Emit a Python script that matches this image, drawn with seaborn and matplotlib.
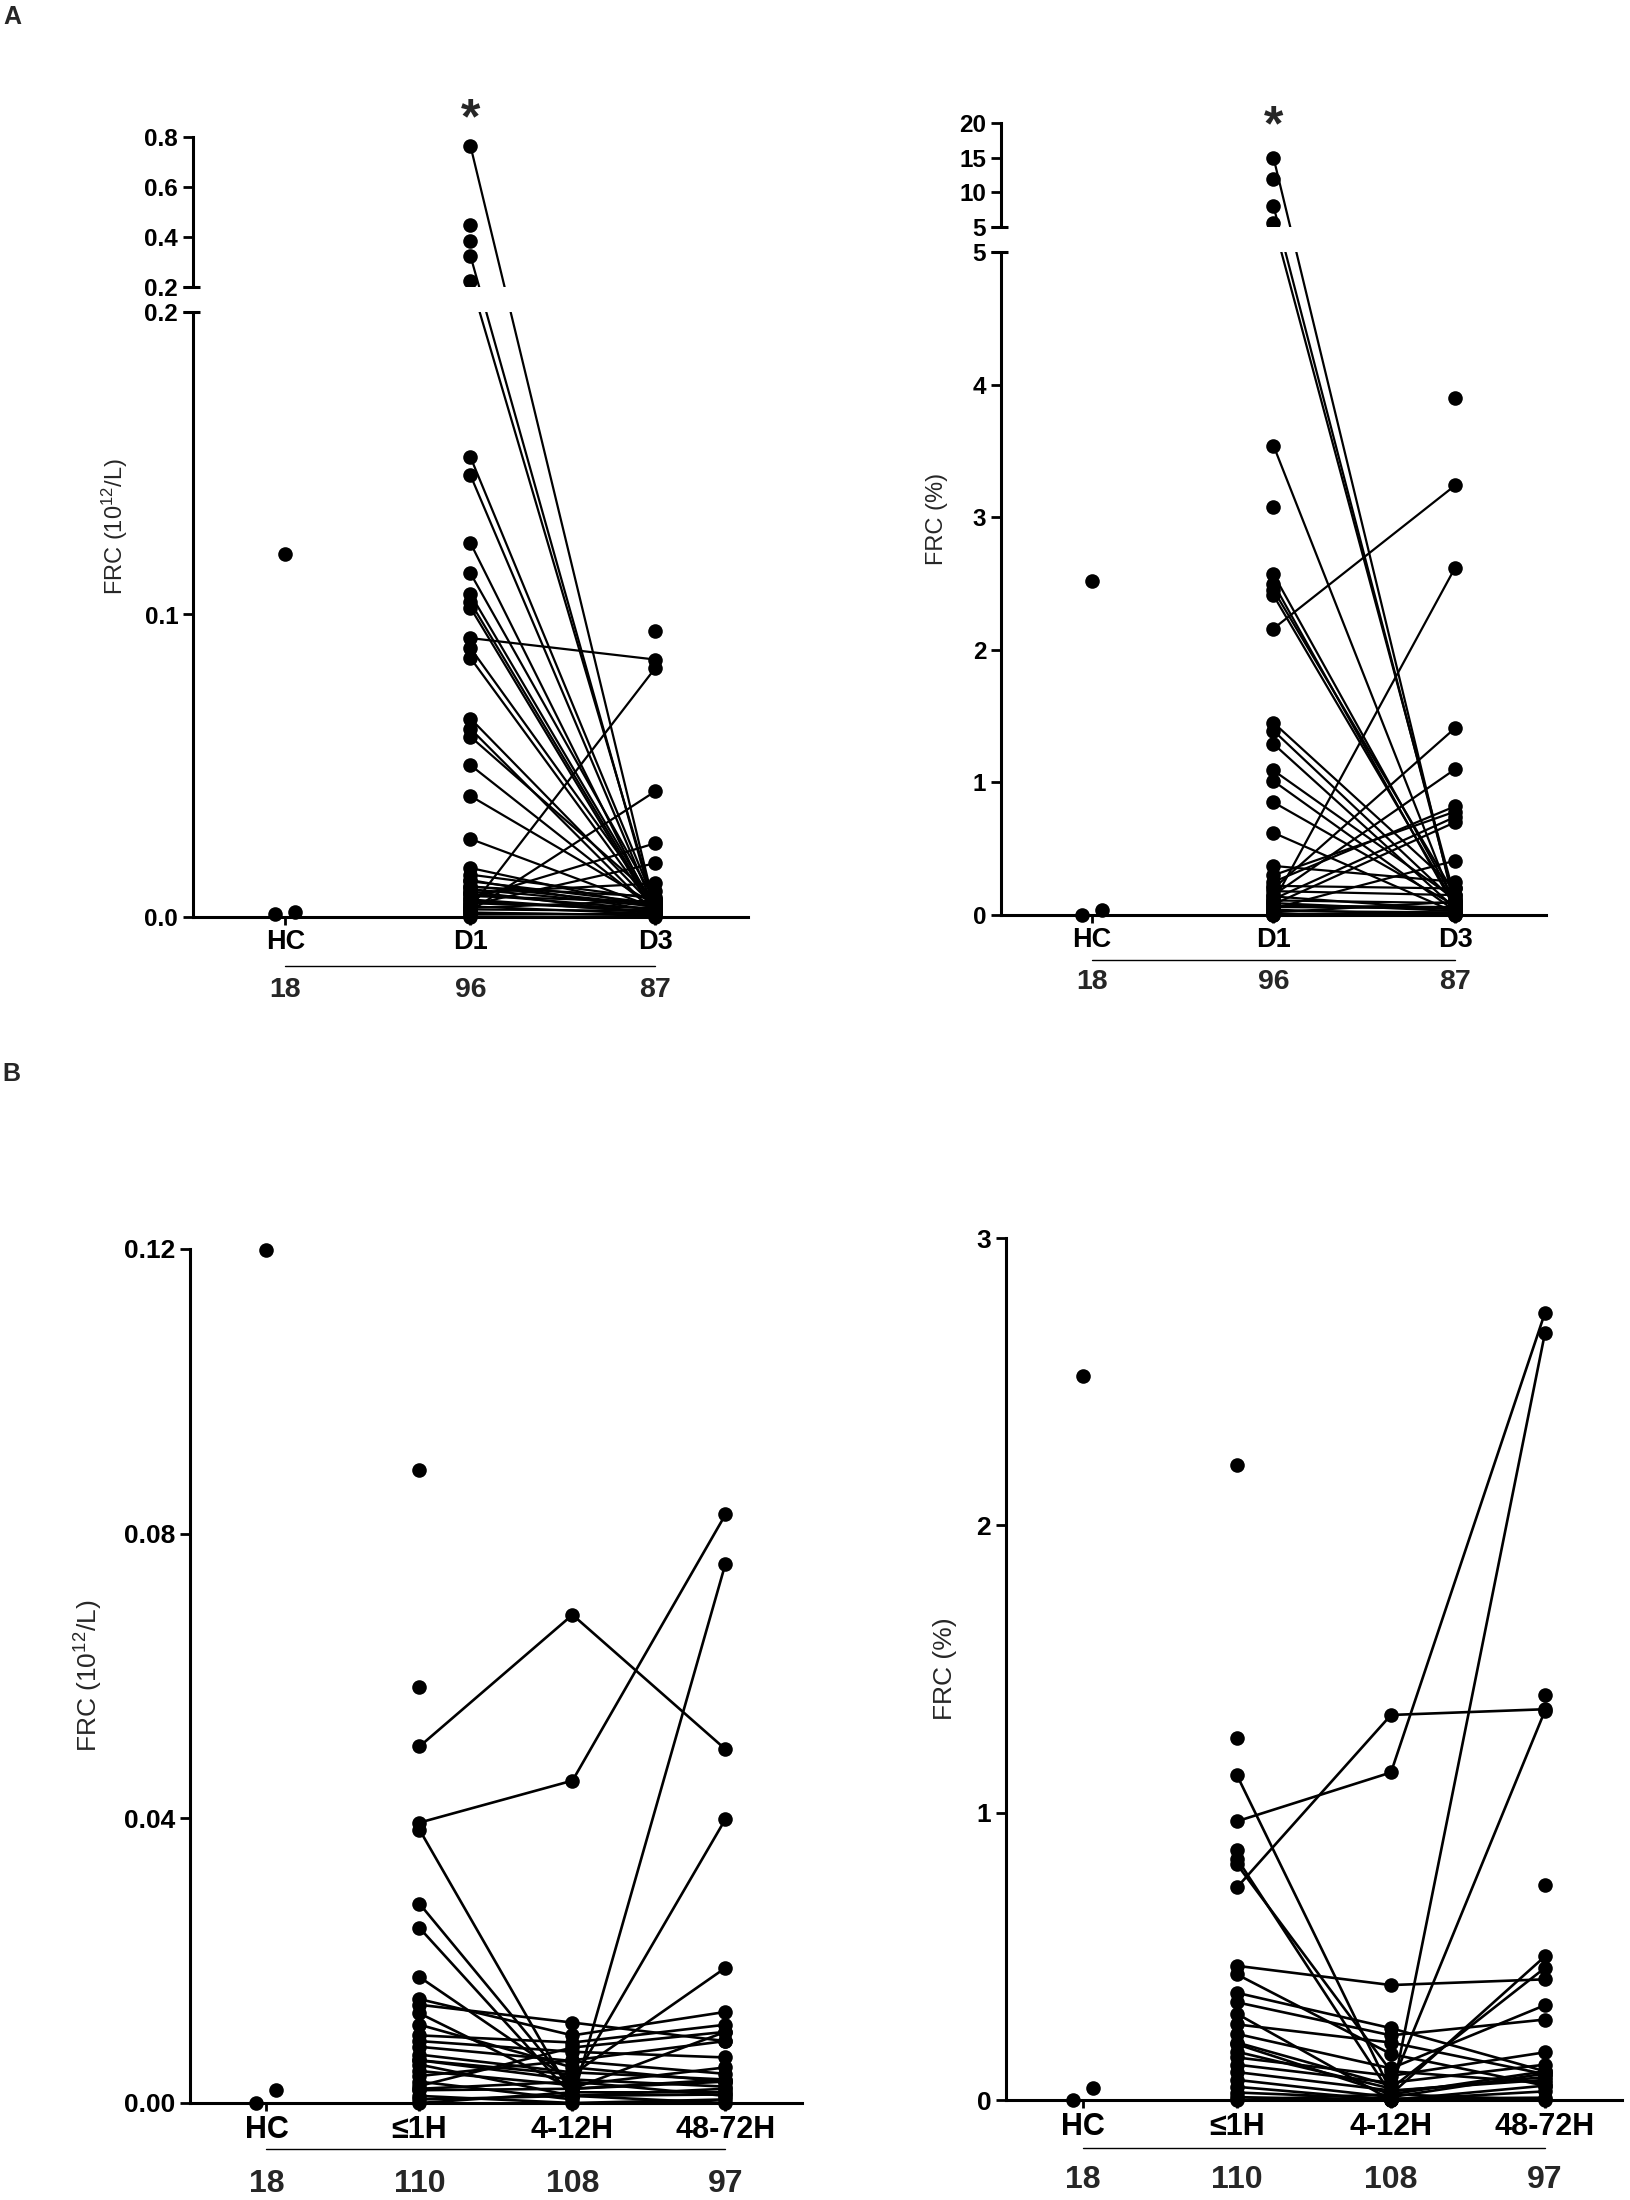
import numpy as np
import pandas as pd
import seaborn as sns
import matplotlib.pyplot as plt
from matplotlib.patches import Rectangle
from matplotlib.transforms import blended_transform_factory, offset_copy

sns.set_theme(style='ticks')
plt.rcParams['font.family'] = ['Liberation Sans', 'DejaVu Sans']
plt.rcParams['mathtext.default'] = 'regular'
plt.rcParams['axes.edgecolor'] = 'black'
plt.rcParams['xtick.color'] = 'black'
plt.rcParams['ytick.color'] = 'black'

nan = np.nan

# ---------------- panel A: HC / D1 / D3 ----------------
a_cats = ['HC', 'D1', 'D3']
a_counts = [18, 96, 87]

# absolute FRC (10^12/L)
a_abs_hc = [0.1200, 0.0009, 0.0017]
a_abs_d1 = [0.764, 0.448, 0.384, 0.324, 0.224, 0.152, 0.146, 0.1236, 0.1136, 0.1067,
            0.104, 0.1022, 0.0922, 0.0889, 0.0856, 0.0656, 0.0622, 0.0596, 0.0502, 0.040,
            0.0258, 0.003, 0.002, 0.006, 0.004, 0.008, 0.010, 0.0162, 0.014, 0.0122,
            0.0102, 0.0084, 0.0069, 0.0051, 0.0045, 0.0035, 0.0025, 0.0015, 0.0008, 0.0,
            nan, 0.0118, 0.0092, 0.0075, 0.0058, nan, 0.0030, 0.0012]
a_abs_d3 = [0.002, nan, nan, 0.001, 0.003, 0.004, 0.002, 0.001, 0.005, 0.003,
            0.002, 0.001, 0.0851, 0.004, 0.002, 0.003, 0.001, 0.006, 0.002, 0.004,
            0.003, 0.0824, 0.0416, 0.0244, 0.0178, 0.0111, 0.0067, 0.003, 0.006, 0.002,
            0.004, 0.001, 0.005, 0.002, 0.003, 0.001, 0.002, 0.0005, 0.001, 0.0,
            0.0947, 0.0045, 0.0035, 0.0025, 0.0015, 0.0085, 0.0055, 0.0008]

# relative FRC (%)
a_pct_hc = [2.52, 0.00, 0.04]
a_pct_d1 = [15.0, 11.9, 8.0, 5.6, 3.54, 3.08, 2.57, 2.50, 2.45, 2.41,
            2.16, 1.45, 1.39, 1.29, 1.09, 1.01, 0.85, 0.62, 0.10, 0.20,
            0.15, 0.25, 0.30, 0.12, 0.08, 0.05, 0.37, 0.22, 0.18, 0.03,
            0.06, 0.02, 0.01, 0.04, 0.09, 0.07, 0.00, 0.14, 0.11, nan, 0.0]
a_pct_d3 = [0.05, nan, 0.08, 0.12, 0.06, nan, 0.10, 0.05, 0.15, 0.08,
            3.24, 0.20, 0.10, 0.05, 0.12, 0.03, 0.07, 0.02, 2.62, 1.41,
            1.10, 0.82, 0.78, 0.74, 0.70, 0.41, 0.25, 0.20, 0.15, 0.02,
            0.05, 0.10, 0.01, 0.00, 0.03, 0.06, 0.02, 0.04, 0.09, 3.90, 0.0]

# ---------------- panel B: HC / <=1H / 4-12H / 48-72H ----------------
b_cats = ['HC', '\u22641H', '4-12H', '48-72H']
b_counts = [18, 110, 108, 97]

b_abs_hc = [0.1198, 0.0, 0.0018]
b_abs_h1 = [0.0889, 0.0585, 0.0501, 0.0394, 0.0384, 0.0280, 0.0246, 0.0177, 0.0146, 0.0138,
            0.0126, 0.0030, 0.0020, 0.0060, 0.0095, 0.0087, 0.0079, 0.0068, 0.0060, 0.0054,
            0.0038, 0.0024, 0.0018, 0.0010, 0.0005, 0.0000, 0.0045, 0.0110]
b_abs_h4 = [nan, nan, 0.0686, 0.0453, 0.0010, 0.0020, 0.0010, 0.0030, 0.0095, 0.0113,
            0.0020, 0.0005, 0.0030, 0.0040, 0.0085, 0.0072, 0.0059, 0.0043, 0.0033, 0.0010,
            0.0060, 0.0078, 0.0020, 0.0000, 0.0010, 0.0015, 0.0025, 0.0050]
b_abs_h48 = [nan, nan, 0.0497, 0.0827, nan, 0.0030, 0.0020, 0.0010, 0.0128, 0.0087,
             0.0100, 0.0758, 0.0399, 0.0190, 0.0110, 0.0064, 0.0041, 0.0033, 0.0023, 0.0012,
             0.0087, 0.0100, 0.0033, 0.0005, 0.0000, 0.0015, 0.0050, 0.0030]

b_pct_hc = [2.52, 0.00, 0.041]
b_pct_h1 = [2.21, 1.26, 1.13, 0.97, 0.87, 0.84, 0.82, 0.74, 0.467, 0.437,
            0.373, 0.34, 0.30, 0.263, 0.23, 0.20, 0.194, 0.168, 0.148, 0.123,
            0.097, 0.07, 0.046, 0.026, 0.01, 0.00, nan, nan]
b_pct_h4 = [nan, nan, 0.03, 1.14, nan, 0.02, 0.10, 1.34, 0.40, 0.16,
            0.25, 0.225, 0.00, 0.20, 0.11, 0.05, 0.02, 0.04, 0.084, 0.06,
            0.033, 0.01, 0.00, 0.005, 0.00, 0.02, nan, nan]
b_pct_h48 = [nan, nan, 0.08, 2.74, nan, 0.10, 0.06, 1.36, 0.42, 0.05,
             0.10, 0.28, 2.67, 0.09, 0.33, 1.355, 0.50, 0.46, 0.166, 0.123,
             0.07, 0.092, 0.05, 0.008, 0.03, 0.00, 1.41, 0.75]

W, H = 1631, 2200
DOT = 10.5
fig = plt.figure(figsize=(W / 100, H / 100), dpi=100)


def px_axes(left, top, right, bottom):
    return fig.add_axes([left / W, 1 - bottom / H, (right - left) / W, (bottom - top) / H])


def broken_scale(ax, brk, top, lo, gap, hi):
    def fwd(v):
        v = np.asarray(v, dtype=float)
        return np.where(v <= brk, v / brk * lo, lo + gap + (v - brk) / (top - brk) * hi)

    def inv(y):
        y = np.asarray(y, dtype=float)
        return np.where(y <= lo, y / lo * brk,
                        np.where(y >= lo + gap, brk + (y - lo - gap) / hi * (top - brk), brk))

    ax.set_yscale('function', functions=(fwd, inv))
    ax.set_ylim(0, top)
    total = lo + gap + hi
    w_px = ax.get_position().width * W
    ax.add_patch(Rectangle((-6 / w_px, lo / total), 1 + 6 / w_px, gap / total,
                           transform=ax.transAxes, facecolor='white', edgecolor='none',
                           zorder=5, clip_on=False))
    for yy in (lo / total, (lo + gap) / total):
        ax.plot([-10 / w_px, 7 / w_px], [yy, yy], transform=ax.transAxes, color='black',
                lw=2.2, solid_capstyle='butt', zorder=6, clip_on=False)


def draw_panel(ax, cats, counts, hc, series, ylabel, fs, lw, off):
    rows = []
    for pid, vals in enumerate(zip(*series)):
        for k, v in enumerate(vals, start=1):
            if not np.isnan(v):
                rows.append((pid, k, v))
    df = pd.DataFrame(rows, columns=['pid', 'pos', 'val'])
    sns.lineplot(data=df, x='pos', y='val', units='pid', estimator=None, sort=False,
                 color='black', lw=lw, marker='o', markersize=DOT, markeredgewidth=0,
                 legend=False, ax=ax)

    # healthy controls: the top value sits on the column, the near-zero
    # values are spread side by side as in the original scatter
    unit_px = ax.get_position().width * W / len(cats)
    spread = 10 / unit_px
    hc_x = np.concatenate([[0.0], np.linspace(-spread, spread, len(hc) - 1)])
    sns.scatterplot(x=hc_x, y=hc, color='black', s=DOT ** 2, linewidth=0,
                    legend=False, ax=ax)
    for art in ax.lines + ax.collections:
        art.set_clip_on(False)

    ax.set_xlim(-0.5, len(cats) - 0.5)
    ax.set_xticks(range(len(cats)), cats, fontsize=fs['x'], fontweight='bold')
    ax.set_xlabel('')
    ax.set_ylabel(ylabel, fontsize=fs['ylab'])
    sns.despine(ax=ax)
    for side in ('left', 'bottom'):
        ax.spines[side].set_linewidth(2.2)
    ax.tick_params(axis='y', direction='out', length=7.2, width=2, pad=3.5)
    ax.tick_params(axis='x', direction='out', length=5.8, width=2, pad=3.0)

    trans = blended_transform_factory(ax.transData, ax.transAxes)
    ax.plot([0, len(cats) - 1], [0, 0], color='black', lw=1.0, clip_on=False,
            transform=offset_copy(trans, fig=fig, y=-off['line'], units='dots'))
    for i, n in enumerate(counts):
        ax.text(i, 0, str(n), ha='center', va='center_baseline', fontsize=fs['n'],
                fontweight='bold', transform=offset_copy(trans, fig=fig, y=-off['n'], units='dots'))
    w_px = ax.get_position().width * W
    ax.yaxis.set_label_coords(-off['ylab'] / w_px, 0.5)
    ax.yaxis.label.set_verticalalignment('center')
    return trans


fs_a = {'x': 19.5, 'n': 20.5, 'ylab': 17, 'tick': 17.5}
fs_b = {'x': 22, 'n': 23, 'ylab': 19, 'tick': 19}

# A left
ax1 = px_axes(193, 137, 748, 917)
t1 = draw_panel(ax1, a_cats, a_counts, a_abs_hc, [a_abs_d1, a_abs_d3],
                'FRC (10$^{12}$/L)', fs_a, 1.6, {'line': 49, 'n': 70, 'ylab': 78})
broken_scale(ax1, 0.2, 0.8, 605, 25, 150)
ax1.set_yticks([0, 0.1, 0.2, 0.2 + 1e-9, 0.4, 0.6, 0.8],
               ['0.0', '0.1', '0.2', '0.2', '0.4', '0.6', '0.8'],
               fontsize=fs_a['tick'], fontweight='bold')
ax1.annotate('*', xy=(1, 1), xycoords=t1, xytext=(0, 12), textcoords='offset points',
             ha='center', va='center', fontsize=36, fontweight='bold')

# A right
ax2 = px_axes(1001, 123, 1546, 915)
t2 = draw_panel(ax2, a_cats, a_counts, a_pct_hc, [a_pct_d1, a_pct_d3],
                'FRC (%)', fs_a, 1.6, {'line': 45, 'n': 64, 'ylab': 64})
broken_scale(ax2, 5, 20, 663, 25, 104)
ax2.set_yticks([0, 1, 2, 3, 4, 5, 5 + 1e-8, 10, 15, 20],
               ['0', '1', '2', '3', '4', '5', '5', '10', '15', '20'],
               fontsize=fs_a['tick'], fontweight='bold')
ax2.annotate('*', xy=(1, 1), xycoords=t2, xytext=(0, -3), textcoords='offset points',
             ha='center', va='center', fontsize=36, fontweight='bold')

# B left
ax3 = px_axes(190, 1249, 802, 2103)
draw_panel(ax3, b_cats, b_counts, b_abs_hc, [b_abs_h1, b_abs_h4, b_abs_h48],
           'FRC (10$^{12}$/L)', fs_b, 1.9, {'line': 46, 'n': 77, 'ylab': 101})
ax3.set_ylim(0, 0.12)
ax3.set_yticks([0, 0.04, 0.08, 0.12], ['0.00', '0.04', '0.08', '0.12'],
               fontsize=fs_b['tick'], fontweight='bold')

# B right
ax4 = px_axes(1006, 1238, 1622, 2100)
draw_panel(ax4, b_cats, b_counts, b_pct_hc, [b_pct_h1, b_pct_h4, b_pct_h48],
           'FRC (%)', fs_b, 1.9, {'line': 48, 'n': 77, 'ylab': 61})
ax4.set_ylim(0, 3)
ax4.set_yticks([0, 1, 2, 3], ['0', '1', '2', '3'], fontsize=fs_b['tick'], fontweight='bold')

fig.text(12 / W, 1 - 17 / H, 'A', ha='center', va='center', fontsize=18, fontweight='bold')
fig.text(11 / W, 1 - 1074 / H, 'B', ha='center', va='center', fontsize=18, fontweight='bold')

fig.savefig('out.png', dpi=100)
